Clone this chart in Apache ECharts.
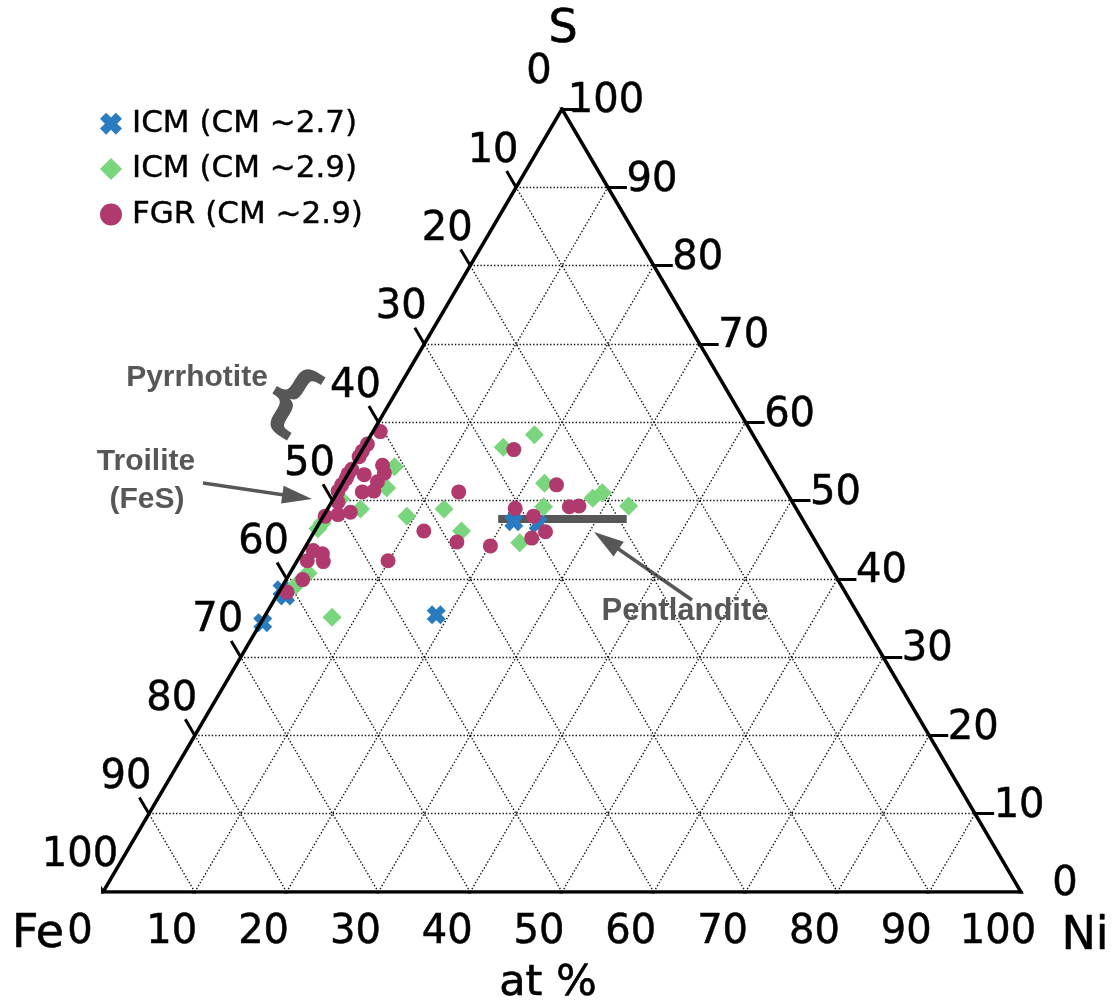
<!DOCTYPE html>
<html>
<head>
<meta charset="utf-8">
<script src="https://cdn.jsdelivr.net/npm/echarts@6/dist/echarts.min.js"></script>
<style>
html,body{margin:0;padding:0;background:#fff;}
#chart{width:1114px;height:1008px;}
</style>
</head>
<body>
<div id="chart"></div>
<script>
// ---------- DATA (at %) ----------
const seriesNames = ['ICM (CM ~2.7)', 'ICM (CM ~2.9)', 'FGR (CM ~2.9)'];
const tickValues = [0, 10, 20, 30, 40, 50, 60, 70, 80, 90, 100];
const gridValues = [10, 20, 30, 40, 50, 60, 70, 80, 90];
const cornerTop = 'S';
const cornerLeft = 'Fe';
const cornerRight = 'Ni';
const axisTitle = 'at %';

// ICM (CM ~2.7)
const icm27Ni = [0.2, 0.2, 1.0, 18.6, 21.1, 23.9];
const icm27S  = [34.4, 38.6, 37.8, 35.4, 47.3, 47.0];

// ICM (CM ~2.9)
const icm29Ni = [4.6, 5.1, 3.6, 0.3, 0.2, 2.0, 1.4, 7.4, 9.1, 12.7, 16.0, 15.2, 17.8, 22.0, 23.4, 23.1, 28.2, 28.9, 32.6, 0.8];
const icm29S  = [54.3, 51.6, 48.9, 47.1, 46.4, 40.7, 39.1, 35.1, 48.0, 48.9, 46.1, 56.8, 58.4, 52.2, 49.2, 44.6, 50.3, 51.0, 49.3, 50.2];

// FGR (CM ~2.9)
const fgrNi = [16.5, 23.4, 20.4, 22.9, 25.2, 24.1, 20.1, 26.2, 27.2, 13.2, 11.9, 16.2, 9.9,
               0.8, 0.2, 0.1, 0.1, 0.1, 3.2, 1.8, 3.9, 3.7, 2.7, 3.9, 0.0, 0.7, 2.7, 1.5, 0.2,
               1.1, 2.3, 1.1, 2.9, 1.8, 0.9, 0.1, 0.0, 0.0];
const fgrS  = [56.5, 52.0, 49.0, 48.0, 46.0, 45.2, 44.2, 49.2, 49.3, 51.1, 46.1, 44.7, 42.3,
               58.8, 57.2, 55.6, 54.0, 52.8, 54.5, 53.3, 53.5, 52.4, 51.1, 51.2, 51.2, 49.8, 48.5, 48.2, 48.0,
               43.6, 43.2, 42.3, 42.2, 39.9, 38.3, 56.3, 53.4, 52.0];

// Pentlandite composition bar
const pentlanditeNi = [19.2, 33.2];
const pentlanditeS  = [47.7, 47.7];

// ---------- ternary helpers ----------
const H = Math.sqrt(3) / 2;
function tern(ni, s) { return [ni / 100 + s / 200, (s / 100) * H]; }
function pts(niArr, sArr) { return niArr.map((n, i) => tern(n, sArr[i])); }

const GRAY = '#575757';
const FONT = 'DejaVu Sans';

// grid lines
const gridSegs = [];
gridValues.forEach(v => {
  gridSegs.push({ coords: [tern(0, v), tern(100 - v, v)] });         // const S
  gridSegs.push({ coords: [tern(v, 0), tern(v, 100 - v)] });         // const Ni
  gridSegs.push({ coords: [tern(100 - v, 0), tern(0, 100 - v)] });   // const Fe
});

// ticks
const TL = 0.0207;
const tickSegs = [];
const tickLabelAnchors = []; // [text, dataPoint, pxOffset]
tickValues.forEach(v => {
  const b = tern(v, 0);
  tickSegs.push({ coords: [b, [b[0] - 0.5 * TL, b[1] - H * TL]] });
  tickLabelAnchors.push([String(v), b, [-23, 41]]);
  const l = tern(0, 100 - v);
  tickSegs.push({ coords: [l, [l[0] - 0.5 * TL, l[1] + H * TL]] });
  tickLabelAnchors.push([String(v), l, [-23, -36]]);
  const r = tern(100 - v, v);
  tickSegs.push({ coords: [r, [r[0] + TL, r[1]]] });
  tickLabelAnchors.push([String(v), r, [44, -7]]);
});

const border = [{ coords: [tern(0, 0), tern(100, 0), tern(0, 100), tern(0, 0), tern(100, 0)] }];

const xPath = 'path://M0,2.8L2.8,0L5,2.2L7.2,0L10,2.8L7.8,5L10,7.2L7.2,10L5,7.8L2.8,10L0,7.2L2.2,5Z';

function arrow(x1, y1, x2, y2, hl, hw, w, color) {
  const dx = x2 - x1, dy = y2 - y1, len = Math.hypot(dx, dy);
  const ux = dx / len, uy = dy / len, px = -uy, py = ux;
  const bx = x2 - ux * hl, by = y2 - uy * hl;
  return [
    { type: 'line', shape: { x1: x1, y1: y1, x2: bx + ux * 2, y2: by + uy * 2 }, style: { stroke: color, lineWidth: w } },
    { type: 'polygon', shape: { points: [[x2, y2], [bx + px * hw, by + py * hw], [bx - px * hw, by - py * hw]] }, style: { fill: color } }
  ];
}

function txt(x, y, text, size, weight, family, color, rot, border) {
  const st = {
    text: text, fontSize: size, fontWeight: weight, fontFamily: family, fill: color,
    align: 'center', verticalAlign: 'middle', textAlign: 'center', textVerticalAlign: 'middle'
  };
  if (border) { st.stroke = color; st.lineWidth = border; }
  return { type: 'text', x: x, y: y, rotation: rot || 0, z: 50, style: st };
}

const chart = echarts.init(document.getElementById('chart'), null, { renderer: 'canvas' });
const baseGraphic = [
  txt(563, 30, cornerTop, 46, 'normal', FONT, '#000', 0, 0.6),
  txt(38, 935, cornerLeft, 46, 'normal', FONT, '#000', 0, 0.6),
  txt(1085, 937, cornerRight, 46, 'normal', FONT, '#000', 0, 0.6),
  txt(548, 984, axisTitle, 43, 'normal', FONT, '#000', 0, 0.6),
  txt(197, 378, 'Pyrrhotite', 30, 'bold', 'Liberation Sans', GRAY),
  txt(289, 402, '{', 80, 'bold', FONT, GRAY, -0.55),
  txt(146, 462, 'Troilite', 30, 'bold', 'Liberation Sans', GRAY),
  txt(147, 500, '(FeS)', 30, 'bold', 'Liberation Sans', GRAY),
  txt(685, 611, 'Pentlandite', 31, 'bold', 'Liberation Sans', GRAY)
].concat(arrow(203, 483, 312, 499, 30, 9, 3.5, GRAY))
 .concat(arrow(692, 600, 594, 532, 30, 9, 3.5, GRAY));

chart.setOption({
  animation: false,
  backgroundColor: '#fff',
  grid: { left: 103, right: 93, top: 109, bottom: 116 },
  xAxis: { type: 'value', min: 0, max: 1, show: false },
  yAxis: { type: 'value', min: 0, max: H, show: false },
  legend: {
    data: seriesNames, orient: 'vertical', left: 95, top: 103,
    itemWidth: 22, itemHeight: 22, itemGap: 14, selectedMode: false,
    textStyle: { fontSize: 31, fontFamily: FONT, color: '#000', padding: [0, 0, 0, 5],
                 textBorderWidth: 0.4, textBorderColor: '#000' }
  },
  graphic: baseGraphic,
  series: [
    { type: 'lines', coordinateSystem: 'cartesian2d', silent: true, z: 1,
      lineStyle: { color: '#111', width: 1.4, type: [1.4, 2], opacity: 1 }, data: gridSegs },
    { type: 'lines', coordinateSystem: 'cartesian2d', silent: true, z: 2, name: 'Pentlandite',
      lineStyle: { color: GRAY, width: 8, opacity: 1, cap: 'butt' },
      data: [{ coords: pts(pentlanditeNi, pentlanditeS) }] },
    { type: 'scatter', name: seriesNames[0], z: 3, symbol: xPath, symbolSize: 19,
      itemStyle: { color: '#2b7cbf', opacity: 1 }, data: pts(icm27Ni, icm27S) },
    { type: 'scatter', name: seriesNames[1], z: 3, symbol: 'diamond', symbolSize: 19,
      itemStyle: { color: '#79d67d', opacity: 1 }, data: pts(icm29Ni, icm29S) },
    { type: 'scatter', name: seriesNames[2], z: 3, symbol: 'circle', symbolSize: 15,
      itemStyle: { color: '#b03a6e', opacity: 1 }, data: pts(fgrNi, fgrS) },
    { type: 'lines', coordinateSystem: 'cartesian2d', silent: true, z: 5, polyline: true,
      lineStyle: { color: '#000', width: 3.5, opacity: 1, join: 'miter' }, data: border },
    { type: 'lines', coordinateSystem: 'cartesian2d', silent: true, z: 5,
      lineStyle: { color: '#000', width: 3, opacity: 1 }, data: tickSegs }
  ]
});

// tick labels positioned through the chart's own scales
const labelGraphic = tickLabelAnchors.map(a => {
  const p = chart.convertToPixel({ gridIndex: 0 }, a[1]);
  return txt(p[0] + a[2][0], p[1] + a[2][1], a[0], 40, 'normal', FONT, '#000', 0, 0.5);
});
chart.setOption({ graphic: baseGraphic.concat(labelGraphic) });
</script>
</body>
</html>
